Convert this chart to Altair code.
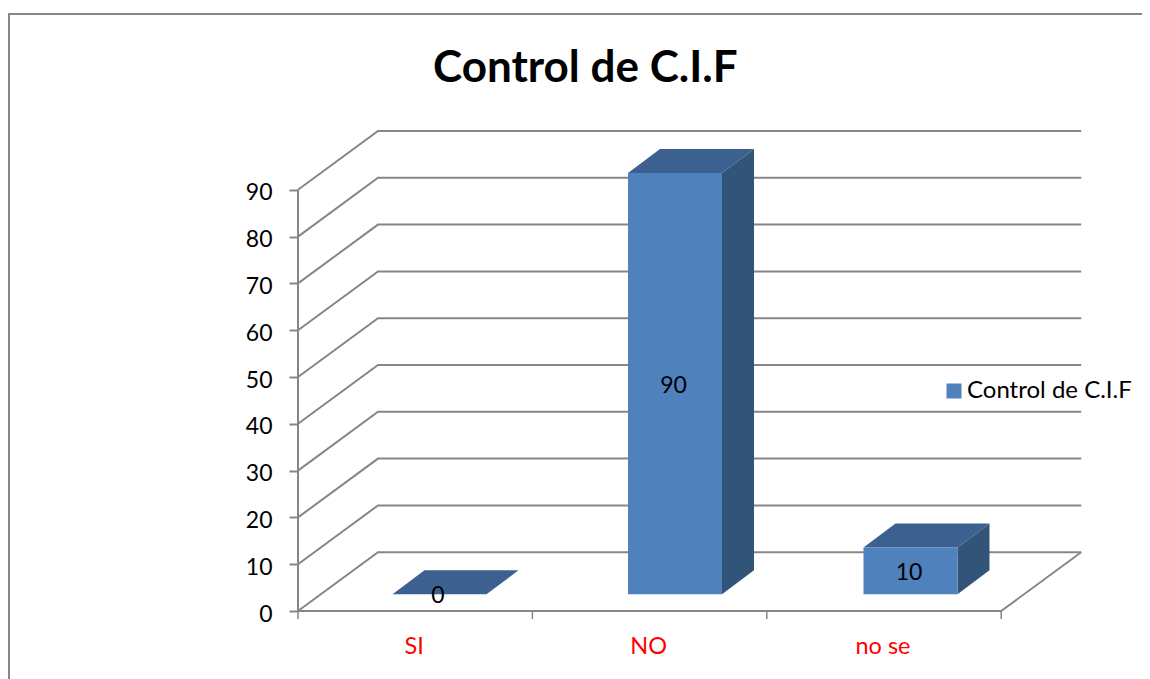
import altair as alt
import pandas as pd

categories = ["SI", "NO", "no se"]
values = [0, 90, 10]
series_name = "Control de C.I.F"
tick_values = [0, 10, 20, 30, 40, 50, 60, 70, 80, 90]

# geometry of the oblique projection (x in category slots, y in value units)
PX = 234.4
PY = 4.68
W = 785
H = 481
floor_dx, floor_dy = 80 / PX, 58.8 / PY
off_dy = 16.7 / PY
bar_l, bar_w, bar_step = 94.5 / PX, 94 / PX, 235.5 / PX
bar_dx, bar_dy = 32 / PX, 24 / PY
xdom = [0, W / PX]
ydom = [0, H / PY]

FRONT = "#4F81BD"
SIDE = "#335479"
TOP = "#3C6090"
GRID = "#868686"
FONT = "Lato"

xscale = alt.Scale(domain=xdom, nice=False, zero=False)
yscale = alt.Scale(domain=ydom, nice=False, zero=False)
xaxis = alt.Axis(values=[0.5, 1.5, 2.5], title=None, grid=False, domain=False, ticks=False,
                 labelExpr="['SI','NO','no se'][floor(datum.value)]",
                 labelColor="#FF0000", labelFont=FONT, labelFontSize=23.5, labelPadding=23, labelOffset=-1.5)
yaxis = alt.Axis(values=tick_values, title=None, grid=False, domain=False, tickColor=GRID,
                 tickSize=9, tickWidth=2, labelColor="#000000", labelFont=FONT,
                 labelFontSize=23, labelPadding=17, labelOffset=3)
x = lambda f="x": alt.X(f"{f}:Q", scale=xscale, axis=xaxis)
y = lambda f="y": alt.Y(f"{f}:Q", scale=yscale, axis=yaxis)

# gridlines: left wall diagonal + back wall
grid_rows = []
for t in tick_values:
    grid_rows += [
        {"t": t, "o": 0, "x": 0, "y": t},
        {"t": t, "o": 1, "x": floor_dx, "y": t + floor_dy},
        {"t": t, "o": 2, "x": 3 + floor_dx, "y": t + floor_dy},
    ]
grid_rows += [
    {"t": -1, "o": 0, "x": 3, "y": 0},
    {"t": -1, "o": 1, "x": 3 + floor_dx, "y": floor_dy},
    {"t": -2, "o": 0, "x": 0, "y": 0},
    {"t": -2, "o": 1, "x": 3, "y": 0},
    {"t": -3, "o": 0, "x": 0, "y": 0},
    {"t": -3, "o": 1, "x": 0, "y": tick_values[-1]},
]
grid = alt.Chart(pd.DataFrame(grid_rows)).mark_line(color=GRID, strokeWidth=2).encode(
    x=x(), y=y(), detail="t:N", order="o:Q"
)

# tick marks on the category axis, between the slots
tick_df = pd.DataFrame({"x": [0, 1, 2, 3]})
xticks = alt.Chart(tick_df).mark_rule(color=GRID, strokeWidth=1.5).encode(
    x=x(), y=alt.value(H), y2=alt.value(H + 8)
)

# bars
polys = []
labels = []
for i, (c, v) in enumerate(zip(categories, values)):
    l = i * bar_step + bar_l
    r = l + bar_w
    b = off_dy
    t = b + v
    side = [{"x": r, "y": b, "y2": t},
            {"x": r + bar_dx, "y": b + bar_dy, "y2": t + bar_dy}]
    top = [{"x": l, "y": t, "y2": t},
           {"x": l + bar_dx, "y": t + bar_dy, "y2": t},
           {"x": r, "y": t + bar_dy, "y2": t},
           {"x": r + bar_dx, "y": t + bar_dy, "y2": t + bar_dy}]
    front = [{"x": l, "y": b, "y2": t, "s": series_name},
             {"x": r, "y": b, "y2": t, "s": series_name}]
    polys.append(alt.Chart(pd.DataFrame(side)).mark_area(color=SIDE).encode(x=x(), y=y(), y2="y2:Q"))
    polys.append(alt.Chart(pd.DataFrame(top)).mark_area(color=TOP).encode(x=x(), y=y(), y2="y2:Q"))
    polys.append(alt.Chart(pd.DataFrame(front)).mark_area().encode(
        x=x(), y=y(), y2="y2:Q",
        color=alt.Color("s:N", scale=alt.Scale(domain=[series_name], range=[FRONT]),
                        legend=alt.Legend(title=None, orient="none", legendX=644, legendY=249,
                                          symbolType="square", symbolSize=225, symbolStrokeWidth=0,
                                          symbolOpacity=1, labelFont=FONT, labelFontSize=24,
                                          labelColor="#000000", labelOffset=1, labelLimit=260)),
    ))
    labels.append({"x": (l + r) / 2, "y": b + v / 2, "v": v})

text_l = alt.Chart(pd.DataFrame(labels)).mark_text(font=FONT, fontSize=23, color="#000000", dx=-1.5, dy=2).encode(
    x=x(), y=y(), text="v:Q"
)

# outer chart frame, in pixels relative to the plot area; right and bottom edges run off the page
frame = alt.Chart(pd.DataFrame({"a": [0]})).mark_rect(
    fill=None, stroke="#868686", strokeWidth=2, clip=False
).encode(x=alt.value(-289), x2=alt.value(870), y=alt.value(-116), y2=alt.value(600))

chart = alt.layer(frame, grid, xticks, *polys, text_l).properties(
    width=W, height=H,
    title=alt.TitleParams("Control de C.I.F", font=FONT, fontSize=44, fontWeight="bold",
                          color="#000000", anchor="start", frame="group", offset=-78, dx=135),
    padding={"left": 290, "top": 122, "right": 59, "bottom": 68},
    autosize=alt.AutoSizeParams(type="none"),
    background="#FFFFFF",
).configure_view(stroke=None)

chart.save("out.html", embed_options={"renderer": "svg", "actions": False})
